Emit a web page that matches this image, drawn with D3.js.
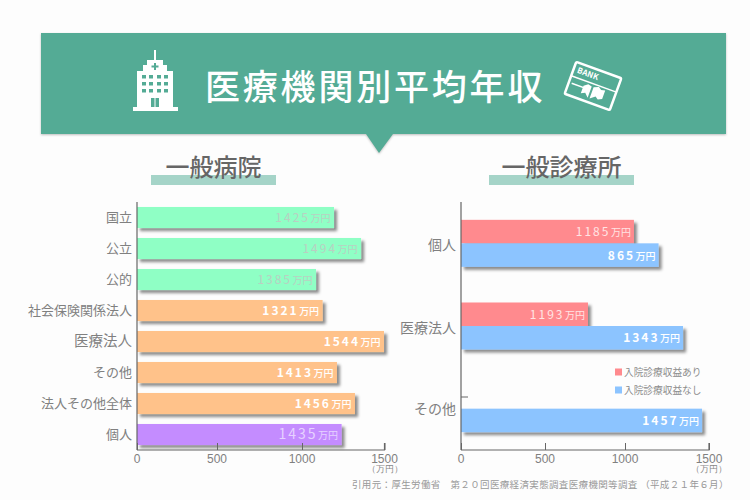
<!DOCTYPE html>
<html>
<head>
<meta charset="utf-8">
<script src="https://cdnjs.cloudflare.com/ajax/libs/d3/7.8.5/d3.min.js"></script>
<style>
  html, body { margin: 0; padding: 0; background: #fdfdfd; }
  svg { display: block; font-family: "Noto Sans CJK JP", sans-serif; }
</style>
</head>
<body>
<div id="chart"></div>
<script>
var hospitalCats = ["国立", "公立", "公的", "社会保険関係法人", "医療法人", "その他", "法人その他全体", "個人"];
var hospitalBars = [1194, 1358, 1085, 1125, 1497, 1212, 1321, 1240];
var hospitalLabels = ["1425", "1494", "1385", "1321", "1544", "1413", "1456", "1435"];
var hospitalColors = ["#8fffc5", "#8fffc5", "#8fffc5", "#ffc28a", "#ffc28a", "#ffc28a", "#ffc28a", "#c48cff"];
var hospitalText = ["#b9d0c2", "#b9d0c2", "#b9d0c2", "#fff", "#fff", "#fff", "#fff", "#e6d2ff"];

// right chart
var clinicCats = ["個人", "医療法人", "その他"];
var withBeds = [1046, 768, null];
var withBedsLabels = ["1185", "1193", null];
var noBeds = [1195, 1343, 1458];
var noBedsLabels = ["865", "1343", "1457"];

var legendNames = ["入院診療収益あり", "入院診療収益なし"];
var xTicks = [0, 500, 1000, 1500];

var svg = d3.select("#chart").append("svg").attr("width", 750).attr("height", 500);

var defs = svg.append("defs");
var f = defs.append("filter").attr("id", "shadow")
  .attr("x", "-5%").attr("y", "-20%").attr("width", "115%").attr("height", "160%");
f.append("feDropShadow").attr("dx", 3).attr("dy", 3).attr("stdDeviation", 1.8)
  .attr("flood-color", "#000").attr("flood-opacity", 0.45);

// banner
svg.append("path")
  .attr("d", "M41,33H726V134H393L379,153L366,134H41Z")
  .attr("fill", "#54ab95")
  .style("filter", "drop-shadow(0 1px 1px rgba(0,0,0,.25))");
svg.append("text").attr("x", 205).attr("y", 100)
  .attr("fill", "#fff").attr("font-size", 35).attr("font-weight", 500)
  .attr("letter-spacing", 2.800)
  .text("医療機関別平均年収");

// hospital icon
var hosp = svg.append("g").attr("fill", "#fff");
hosp.append("path").attr("d",
  "M133,111V107H137V71H143V65H147V60H154V50H156V60H163V65H167V71H173V107H178V111Z");
[75, 82, 89].forEach(function(yy) {
  [142, 149, 157, 164].forEach(function(xx) {
    hosp.append("rect").attr("x", xx).attr("y", yy).attr("width", 4).attr("height", 3.500).attr("fill", "#54ab95");
  });
});
hosp.append("path").attr("fill", "#54ab95").attr("d", "M154,63h2v2.500h2.500v2h-2.500v2.500h-2v-2.500h-2.500v-2h2.500Z");
hosp.append("rect").attr("x", 151).attr("y", 98).attr("width", 3.500).attr("height", 9).attr("fill", "#54ab95");
hosp.append("rect").attr("x", 155.500).attr("y", 98).attr("width", 3.500).attr("height", 9).attr("fill", "#54ab95");

// bankbook icon
var card = svg.append("g").attr("transform", "translate(593,86) rotate(20)");
card.append("rect").attr("x", -24).attr("y", -17).attr("width", 48).attr("height", 34).attr("rx", 1.500)
  .attr("fill", "none").attr("stroke", "#fff").attr("stroke-width", 2.500);
card.append("text").attr("x", -20).attr("y", -7).attr("font-size", 8).attr("font-weight", 700)
  .attr("fill", "#fff").text("BANK");
card.append("rect").attr("x", -24).attr("y", -3).attr("width", 48).attr("height", 1.500).attr("fill", "#fff");
card.append("rect").attr("x", -21).attr("y", 4).attr("width", 15).attr("height", 1.500).attr("fill", "#fff");
card.append("path").attr("d", "M1,13V1L6,-1L9,1L13,0V9L9,11L6,9ZM-1,13V1L-5,0L-9,3V11L-5,9Z").attr("fill", "#fff");

// section headings
[[151, 125, "一般病院", 213.500], [489, 145, "一般診療所", 561.500]].forEach(function(h) {
  svg.append("rect").attr("x", h[0]).attr("y", 175).attr("width", h[1]).attr("height", 10).attr("fill", "#a5d4c8");
  svg.append("text").attr("x", h[3]).attr("y", 175.500).attr("text-anchor", "middle")
    .attr("font-size", 24).attr("font-weight", 500).attr("fill", "#666").text(h[2]);
});

var plotTop = 202, plotBottom = 450;

// draw the bottom axis and left axis line of one chart
// the ticks in the picture are not evenly spaced, so they get their own scale
function drawAxes(x, x0) {
  var ax = svg.append("g").attr("transform", "translate(0," + plotBottom + ")")
    .call(d3.axisTop(x).tickValues(xTicks).tickSize(7).tickFormat(""));
  var xEnd = x.range()[x.range().length - 1];
  ax.select("path").attr("d", "M" + x0 + ",0H" + xEnd + "V-7");
  ax.selectAll("line").attr("stroke", "#666");
  ax.select("path").attr("stroke", "#666").attr("stroke-width", 1.200);
  ax.selectAll(".num").data(xTicks).enter().append("text")
    .attr("x", function(d) { return x(d); }).attr("y", 13)
    .attr("text-anchor", "middle").attr("font-size", 12).attr("fill", "#808080")
    .text(function(d) { return d; });
  ax.append("text").attr("x", xEnd).attr("y", 22).attr("text-anchor", "middle")
    .attr("font-size", 8.500).attr("fill", "#888").text("（万円）");
  svg.append("line").attr("x1", x0).attr("x2", x0).attr("y1", plotTop).attr("y2", plotBottom)
    .attr("stroke", "#666").attr("stroke-width", 1.200);
}

// value label, number plus small unit
function valueLabel(xEnd, yMid, num, color, bold, numSize) {
  var t = svg.append("text").attr("x", xEnd).attr("y", yMid + 4.500)
    .attr("text-anchor", "end").attr("fill", color);
  t.append("tspan").attr("font-size", numSize || 12).attr("letter-spacing", 2)
    .attr("font-weight", bold ? 700 : 400).text(num);
  t.append("tspan").attr("font-size", 10).attr("dx", 0.500)
    .attr("font-weight", bold ? 500 : 400).text("万円");
}

// ---- left chart
var x1 = d3.scaleLinear().domain([0, 1500]).range([137, 384.5]);
var x1Ticks = d3.scaleLinear().domain(xTicks).range([137, 217, 302, 384.5]);
var y1 = d3.scaleBand().domain(hospitalCats).range([plotTop, plotBottom]).paddingInner(0.32).paddingOuter(0.16);

hospitalCats.forEach(function(c, i) {
  svg.append("rect").attr("x", x1(0)).attr("y", y1(c))
    .attr("width", x1(hospitalBars[i]) - x1(0)).attr("height", y1.bandwidth())
    .attr("fill", hospitalColors[i]).attr("filter", "url(#shadow)");
  svg.append("text").attr("x", 132).attr("y", y1(c) + y1.bandwidth() / 2 + 4.500)
    .attr("text-anchor", "end").attr("font-size", c == "医療法人" ? 14.500 : 13).attr("fill", "#808080").text(c);
  valueLabel(x1(hospitalBars[i]) - 3.500, y1(c) + y1.bandwidth() / 2, hospitalLabels[i],
    hospitalText[i], hospitalText[i] == "#fff", i == 7 ? 14 : 12);
});
drawAxes(x1Ticks, x1(0));

// ---- right chart
var x2 = d3.scaleLinear().domain([0, 1500]).range([461, 709]);
var x2Ticks = d3.scaleLinear().domain(xTicks).range([461, 545, 625, 709]);
var y2 = d3.scaleBand().domain(clinicCats).range([plotTop, plotBottom]);
var barH = 23.500;

clinicCats.forEach(function(c, i) {
  var mid = y2(c) + y2.bandwidth() / 2;
  if (withBeds[i] !== null) {
    svg.append("rect").attr("x", x2(0)).attr("y", mid - barH)
      .attr("width", x2(withBeds[i]) - x2(0)).attr("height", barH)
      .attr("fill", "#ff8a8e").attr("filter", "url(#shadow)");
    valueLabel(x2(withBeds[i]) - 3, mid - barH / 2, withBedsLabels[i], "#ffe4e4", false);
  }
  svg.append("rect").attr("x", x2(0)).attr("y", mid)
    .attr("width", x2(noBeds[i]) - x2(0)).attr("height", barH)
    .attr("fill", "#8cc4ff").attr("filter", "url(#shadow)");
  valueLabel(x2(noBeds[i]) - 3, mid + barH / 2, noBedsLabels[i], "#fff", true);
  svg.append("text").attr("x", 456).attr("y", mid + (i == 2 ? 5 : 7))
    .attr("text-anchor", "end").attr("font-size", 14).attr("fill", "#808080").text(c);
});
drawAxes(x2Ticks, x2(0));
svg.append("line").attr("x1", 461).attr("x2", 468).attr("y1", 397).attr("y2", 397).attr("stroke", "#666");

// legend
legendNames.forEach(function(n, i) {
  var ly = 372 + i * 18;
  svg.append("rect").attr("x", 615).attr("y", ly - 3.500).attr("width", 7).attr("height", 7)
    .attr("fill", i == 0 ? "#ff8a8e" : "#8cc4ff");
  svg.append("text").attr("x", 624).attr("y", ly + 3.500).attr("font-size", 9.700)
    .attr("fill", "#8c8c8c").text(n);
});

// source line
svg.append("text").attr("x", 352).attr("y", 488).attr("font-size", 9.500).attr("fill", "#999")
  .attr("letter-spacing", 0.350)
  .text("引用元：厚生労働省　第２０回医療経済実態調査医療機関等調査 （平成２１年６月）");
</script>
</body>
</html>
